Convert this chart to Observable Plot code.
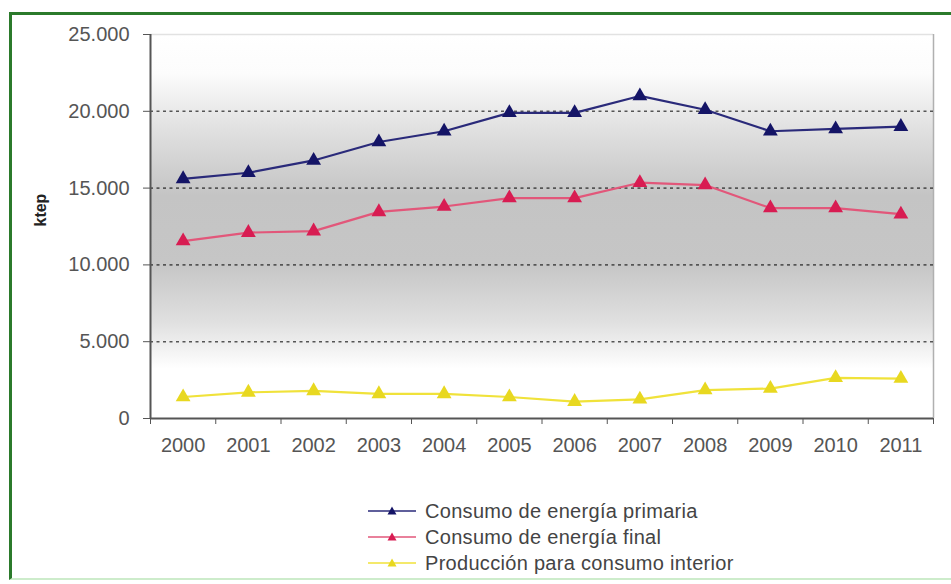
<!DOCTYPE html>
<html>
<head>
<meta charset="utf-8">
<script src="https://cdn.jsdelivr.net/npm/d3@7"></script>
<script src="https://cdn.jsdelivr.net/npm/@observablehq/plot@0.6"></script>
<style>
  html, body { margin: 0; padding: 0; background: #fff; overflow: hidden; }
  body { width: 951px; height: 584px; position: relative; font-family: "Liberation Sans", Arial, sans-serif; }
  #border { position: absolute; left: 9px; top: 12px; width: 980px; height: 568px;
            border-left: 3px solid #2b7a2b; border-top: 3px solid #2b7a2b; border-bottom: 2px solid #cdeccb;
            pointer-events: none; box-sizing: border-box; }
  #legend { position: absolute; left: 368px; top: 498px; font-size: 20px; letter-spacing: 0.3px; color: #444; line-height: 26px; }
  .row { display: flex; align-items: center; height: 26px; }
  .row svg { margin-right: 9px; }
</style>
</head>
<body>
<div id="chart"></div>
<div id="legend"></div>
<div id="border"></div>
<script>
const years = [2000, 2001, 2002, 2003, 2004, 2005, 2006, 2007, 2008, 2009, 2010, 2011];
const primaria   = [15600, 16000, 16800, 18000, 18700, 19900, 19900, 21000, 20100, 18700, 18850, 19000];
const final      = [11550, 12100, 12200, 13450, 13800, 14350, 14350, 15350, 15200, 13700, 13700, 13300];
const produccion = [1400, 1700, 1800, 1600, 1600, 1400, 1100, 1250, 1850, 1950, 2650, 2600];
const seriesNames = ["Consumo de energía primaria", "Consumo de energía final", "Producción para consumo interior"];
const lineColors = ["#2a2a7a", "#e2577a", "#f0e23a"];
const markerColors = ["#141466", "#d81c52", "#e8d820"];
const yTicks = [0, 5000, 10000, 15000, 20000, 25000];
const gridValues = [5000, 10000, 15000, 20000];
const yLabel = "ktep";

const seriesValues = [primaria, final, produccion];
const seriesData = seriesValues.map((vals, s) => years.map((yr, i) => ({year: yr, value: vals[i], series: seriesNames[s]})));
const boundaries = [...years.map(y => y - 0.5), years[years.length - 1] + 0.5];
const fmt = d => d3.format(",")(d).replace(/,/g, ".");

const marks = [
  Plot.frame({fill: "url(#bgGrad)", stroke: "none"}),
  Plot.ruleY([25000], {stroke: "#e2e2e2", strokeWidth: 1.5}),
  Plot.ruleX([boundaries[boundaries.length - 1]], {stroke: "#b0b0b0", strokeWidth: 1.5}),
  Plot.ruleY(gridValues, {stroke: "#555", strokeWidth: 1.6, strokeDasharray: "3,3.5"}),
  Plot.ruleY([0], {stroke: "#555", strokeWidth: 2}),
  Plot.ruleX([boundaries[0]], {stroke: "#555", strokeWidth: 2}),
  Plot.axisY(yTicks, {tickSize: 7, tickPadding: 14, tickFormat: fmt, label: null, stroke: "#555", fill: "#555", fontSize: 20}),
  Plot.axisX(boundaries, {tickSize: 6, tickFormat: () => "", label: null, stroke: "#555"}),
  Plot.axisX(years, {tickSize: 0, tickPadding: 19, tickFormat: d => String(d), label: null, fill: "#555", fontSize: 20}),
  Plot.text([yLabel], {text: d => d, frameAnchor: "left", rotate: -90, dx: -110, fontWeight: "bold", fontSize: 16, fill: "#222"})
];
seriesData.forEach((data, s) => {
  marks.push(Plot.line(data, {x: "year", y: "value", stroke: lineColors[s], strokeWidth: 2.2}));
  marks.push(Plot.dot(data, {x: "year", y: "value", symbol: "triangle", fill: markerColors[s], r: 5.5}));
});

const chart = Plot.plot({
  width: 951, height: 470,
  marginTop: 34, marginBottom: 52, marginLeft: 150, marginRight: 18,
  style: {fontFamily: "'Liberation Sans', Arial, sans-serif", fontSize: "20px", color: "#555", background: "transparent", overflow: "visible"},
  x: {domain: [boundaries[0], boundaries[boundaries.length - 1]], axis: null},
  y: {domain: [0, 25000], axis: null},
  marks
});

const ns = "http://www.w3.org/2000/svg";
const defs = document.createElementNS(ns, "defs");
const grad = document.createElementNS(ns, "linearGradient");
grad.setAttribute("id", "bgGrad");
grad.setAttribute("x1", "0"); grad.setAttribute("y1", "0");
grad.setAttribute("x2", "0"); grad.setAttribute("y2", "1");
[[0, "#ffffff"], [0.1, "#fcfcfc"], [0.25, "#e0e0e0"], [0.42, "#c4c4c4"], [0.6, "#c6c6c6"], [0.75, "#e0e0e0"], [0.87, "#ffffff"], [1, "#ffffff"]].forEach(([o, c]) => {
  const st = document.createElementNS(ns, "stop");
  st.setAttribute("offset", o);
  st.setAttribute("stop-color", c);
  grad.appendChild(st);
});
defs.appendChild(grad);
chart.insertBefore(defs, chart.firstChild);
document.getElementById("chart").appendChild(chart);

const legend = document.getElementById("legend");
seriesNames.forEach((name, s) => {
  const row = document.createElement("div");
  row.className = "row";
  row.innerHTML = `<svg width="48" height="14"><line x1="0" y1="7" x2="48" y2="7" stroke="${lineColors[s]}" stroke-width="1.5"/><path d="M24,2.5 L28.5,10.5 L19.5,10.5 Z" fill="${markerColors[s]}"/></svg><span>${name}</span>`;
  legend.appendChild(row);
});
</script>
</body>
</html>
